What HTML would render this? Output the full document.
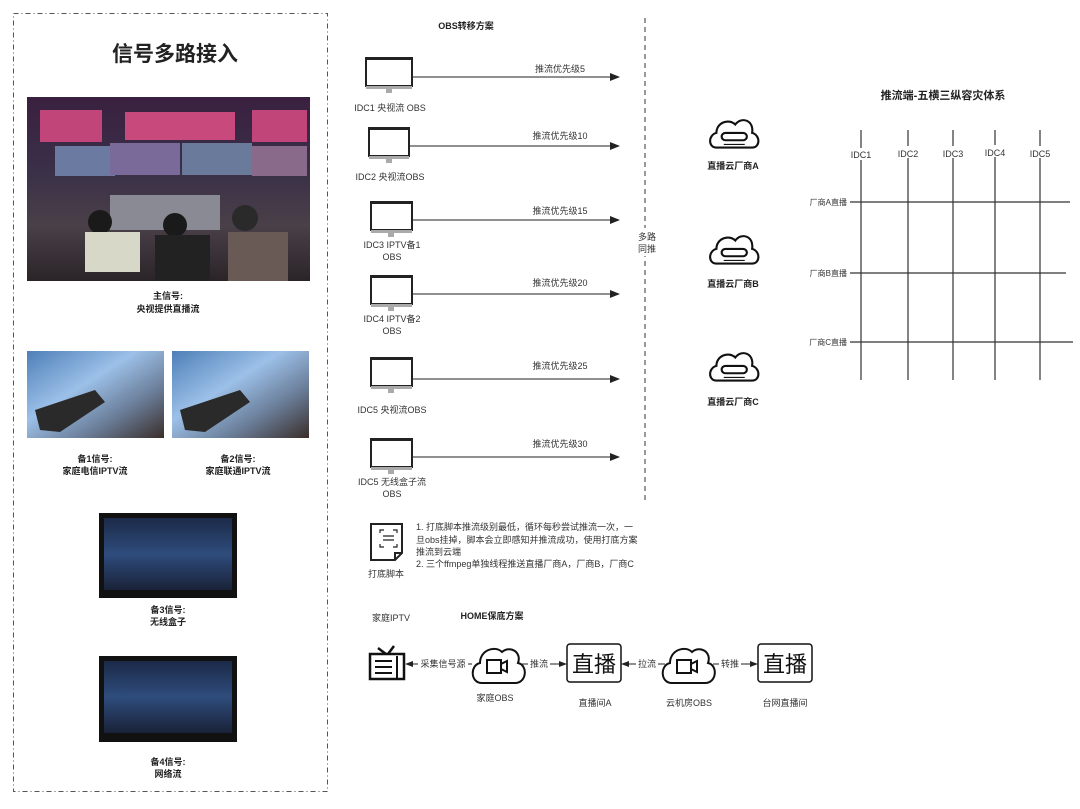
<!DOCTYPE html>
<html><head><meta charset="utf-8"><style>
body{margin:0;background:#fff;}
svg{display:block;font-family:"Liberation Sans","Noto Sans CJK SC",sans-serif;}
</style></head><body>
<svg width="1080" height="809" viewBox="0 0 1080 809" xmlns="http://www.w3.org/2000/svg">
<defs>
<marker id="ar" markerWidth="10" markerHeight="8" refX="9" refY="4" orient="auto" markerUnits="userSpaceOnUse"><path d="M0,0 L10,4 L0,8 Z" fill="#222"/></marker>
<marker id="al" markerWidth="8" markerHeight="6" refX="7" refY="3" orient="auto" markerUnits="userSpaceOnUse"><path d="M0,0 L8,3 L0,6 Z" fill="#222"/></marker>
<linearGradient id="g1" x1="0" y1="0" x2="0" y2="1"><stop offset="0" stop-color="#3a2040"/><stop offset="0.4" stop-color="#3a3048"/><stop offset="0.7" stop-color="#4a4048"/><stop offset="1" stop-color="#2a2428"/></linearGradient>
<linearGradient id="g2" x1="0" y1="0" x2="1" y2="1"><stop offset="0" stop-color="#4e7fb8"/><stop offset="0.4" stop-color="#9cc0e8"/><stop offset="0.7" stop-color="#6a7d98"/><stop offset="1" stop-color="#3a2e2a"/></linearGradient>
<linearGradient id="g3" x1="0" y1="0" x2="0" y2="1"><stop offset="0" stop-color="#1c2a48"/><stop offset="0.5" stop-color="#2e4c7c"/><stop offset="1" stop-color="#1a2238"/></linearGradient>
</defs>

<rect x="13.5" y="13.5" width="314" height="778" fill="none" stroke="#555" stroke-width="1" stroke-dasharray="5,3,1,3"/>
<text x="175" y="61" font-size="21" font-weight="bold" text-anchor="middle" fill="#222">信号多路接入</text>
<rect x="27" y="97" width="283" height="184" fill="url(#g1)"/>
<rect x="40" y="110" width="62" height="32" fill="#c2457a"/><rect x="125" y="112" width="55" height="28" fill="#c84a7c"/><rect x="180" y="112" width="55" height="28" fill="#c84a7c"/><rect x="252" y="110" width="55" height="32" fill="#c2457a"/>
<rect x="55" y="146" width="60" height="30" fill="#6a7aa0"/><rect x="110" y="143" width="70" height="32" fill="#7a6a9a"/><rect x="182" y="143" width="70" height="32" fill="#6a7a9a"/><rect x="252" y="146" width="55" height="30" fill="#8a6a8a"/>
<rect x="110" y="195" width="110" height="35" fill="#8a8a95"/>
<circle cx="100" cy="222" r="12" fill="#1a1a1a"/><rect x="85" y="232" width="55" height="40" fill="#d8d8c8"/>
<circle cx="175" cy="225" r="12" fill="#1a1a1a"/><rect x="155" y="235" width="55" height="46" fill="#222"/>
<circle cx="245" cy="218" r="13" fill="#2a2a2a"/><rect x="228" y="232" width="60" height="49" fill="#6a5a55"/>
<text x="168" y="299" font-size="9" font-weight="bold" text-anchor="middle" fill="#222">主信号:</text>
<text x="168" y="312" font-size="9" font-weight="bold" text-anchor="middle" fill="#222">央视提供直播流</text>

<rect x="27" y="351" width="137" height="87" fill="url(#g2)"/>
<path d="M35,410 L95,390 L105,402 L60,432 L40,430 Z" fill="#2a2a2a"/>
<rect x="172" y="351" width="137" height="87" fill="url(#g2)"/>
<path d="M180,410 L240,390 L250,402 L205,432 L185,430 Z" fill="#2a2a2a"/>
<text x="95" y="462" font-size="9" font-weight="bold" text-anchor="middle" fill="#222">备1信号:</text>
<text x="95" y="474" font-size="9" font-weight="bold" text-anchor="middle" fill="#222">家庭电信IPTV流</text>
<text x="238" y="462" font-size="9" font-weight="bold" text-anchor="middle" fill="#222">备2信号:</text>
<text x="238" y="474" font-size="9" font-weight="bold" text-anchor="middle" fill="#222">家庭联通IPTV流</text>

<rect x="99" y="513" width="138" height="85" fill="#111"/><rect x="104" y="518" width="128" height="72" fill="url(#g3)"/>
<text x="168" y="613" font-size="9" font-weight="bold" text-anchor="middle" fill="#222">备3信号:</text>
<text x="168" y="625" font-size="9" font-weight="bold" text-anchor="middle" fill="#222">无线盒子</text>
<rect x="99" y="656" width="138" height="86" fill="#111"/><rect x="104" y="661" width="128" height="72" fill="url(#g3)"/>
<text x="168" y="765" font-size="9" font-weight="bold" text-anchor="middle" fill="#222">备4信号:</text>
<text x="168" y="777" font-size="9" font-weight="bold" text-anchor="middle" fill="#222">网络流</text>

<text x="466" y="29" font-size="9" font-weight="bold" text-anchor="middle" fill="#222">OBS转移方案</text>
<g fill="none" stroke="#222" stroke-width="2">
<rect x="366" y="58" width="46" height="28"/><rect x="369" y="128" width="40" height="28"/><rect x="371" y="202" width="41" height="28"/><rect x="371" y="276" width="41" height="28"/><rect x="371" y="358" width="41" height="28"/><rect x="371" y="439" width="41" height="28"/>
</g>
<g fill="#222"><rect x="366" y="57" width="46" height="3"/><rect x="369" y="127" width="40" height="3"/><rect x="371" y="201" width="41" height="3"/><rect x="371" y="275" width="41" height="3"/><rect x="371" y="357" width="41" height="3"/><rect x="371" y="438" width="41" height="3"/></g>
<g fill="#aaa">
<rect x="366" y="86" width="46" height="3"/><rect x="386" y="89" width="6" height="4"/>
<rect x="369" y="156" width="40" height="3"/><rect x="386" y="159" width="6" height="4"/>
<rect x="371" y="230" width="41" height="3"/><rect x="388" y="233" width="6" height="4"/>
<rect x="371" y="304" width="41" height="3"/><rect x="388" y="307" width="6" height="4"/>
<rect x="371" y="386" width="41" height="3"/><rect x="388" y="389" width="6" height="4"/>
<rect x="371" y="467" width="41" height="3"/><rect x="388" y="470" width="6" height="4"/>
</g>
<g font-size="9" fill="#333" text-anchor="middle">
<text x="390" y="111">IDC1 央视流 OBS</text>
<text x="390" y="180">IDC2 央视流OBS</text>
<text x="392" y="248">IDC3 IPTV备1</text><text x="392" y="260">OBS</text>
<text x="392" y="322">IDC4 IPTV备2</text><text x="392" y="334">OBS</text>
<text x="392" y="413">IDC5 央视流OBS</text>
<text x="392" y="485">IDC5 无线盒子流</text><text x="392" y="497">OBS</text>
<text x="560" y="72">推流优先级5</text><text x="560" y="139">推流优先级10</text><text x="560" y="214">推流优先级15</text><text x="560" y="286">推流优先级20</text><text x="560" y="369">推流优先级25</text><text x="560" y="447">推流优先级30</text>
</g>
<g stroke="#222" stroke-width="1" marker-end="url(#ar)">
<line x1="412" y1="77" x2="619" y2="77"/><line x1="409" y1="146" x2="619" y2="146"/><line x1="412" y1="220" x2="619" y2="220"/><line x1="412" y1="294" x2="619" y2="294"/><line x1="412" y1="379" x2="619" y2="379"/><line x1="412" y1="457" x2="619" y2="457"/>
</g>
<line x1="645" y1="18" x2="645" y2="500" stroke="#333" stroke-dasharray="5,4"/>
<rect x="636" y="228" width="20" height="28" fill="#fff"/>
<text x="647" y="240" font-size="9" fill="#333" text-anchor="middle">多路</text>
<text x="647" y="252" font-size="9" fill="#333" text-anchor="middle">同推</text>

<g fill="none" stroke="#111" stroke-width="2">
<g transform="translate(708,114) scale(1.05)"><path d="M8,32 C0,32 0,20 8,18 C8,8 20,4 26,10 C32,2 44,6 42,18 C50,20 50,32 42,32 Z"/><rect x="13" y="18" width="24" height="7" rx="3.5"/><line x1="15" y1="29" x2="35" y2="29" stroke-width="1"/></g>
<g transform="translate(708,230) scale(1.05)"><path d="M8,32 C0,32 0,20 8,18 C8,8 20,4 26,10 C32,2 44,6 42,18 C50,20 50,32 42,32 Z"/><rect x="13" y="18" width="24" height="7" rx="3.5"/><line x1="15" y1="29" x2="35" y2="29" stroke-width="1"/></g>
<g transform="translate(708,347) scale(1.05)"><path d="M8,32 C0,32 0,20 8,18 C8,8 20,4 26,10 C32,2 44,6 42,18 C50,20 50,32 42,32 Z"/><rect x="13" y="18" width="24" height="7" rx="3.5"/><line x1="15" y1="29" x2="35" y2="29" stroke-width="1"/></g>
</g>
<g font-size="9" font-weight="bold" fill="#222" text-anchor="middle">
<text x="733" y="169">直播云厂商A</text><text x="733" y="287">直播云厂商B</text><text x="733" y="405">直播云厂商C</text>
</g>

<text x="943" y="99" font-size="11" font-weight="bold" text-anchor="middle" fill="#222">推流端-五横三纵容灾体系</text>
<g stroke="#333" stroke-width="1.2">
<line x1="861" y1="130" x2="861" y2="380"/><line x1="908" y1="130" x2="908" y2="380"/><line x1="953" y1="130" x2="953" y2="380"/><line x1="995" y1="130" x2="995" y2="380"/><line x1="1040" y1="130" x2="1040" y2="380"/>
<line x1="850" y1="202" x2="1070" y2="202"/><line x1="850" y1="273" x2="1066" y2="273"/><line x1="850" y1="342" x2="1073" y2="342"/>
</g>
<g font-size="9" fill="#333" text-anchor="middle">
<rect x="848" y="148" width="26" height="12" fill="#fff"/><text x="861" y="158">IDC1</text>
<rect x="895" y="146" width="26" height="12" fill="#fff"/><text x="908" y="157">IDC2</text>
<rect x="940" y="146" width="26" height="12" fill="#fff"/><text x="953" y="157">IDC3</text>
<rect x="982" y="145" width="26" height="12" fill="#fff"/><text x="995" y="156">IDC4</text>
<rect x="1027" y="146" width="26" height="12" fill="#fff"/><text x="1040" y="157">IDC5</text>
</g>
<g font-size="8" fill="#333" text-anchor="end">
<rect x="800" y="195" width="50" height="12" fill="#fff"/><text x="847" y="205">厂商A直播</text>
<rect x="800" y="266" width="50" height="12" fill="#fff"/><text x="847" y="276">厂商B直播</text>
<rect x="800" y="335" width="50" height="12" fill="#fff"/><text x="847" y="345">厂商C直播</text>
</g>

<path d="M371,524 H402 V553 L395,560 H371 Z M395,560 V553 H402" fill="none" stroke="#222" stroke-width="2"/>
<path d="M380,533 v-3 h4 M393,530 h4 v3 M380,544 v3 h4 M393,547 h4 v-3 M383,536 h11 M383,540 h11" fill="none" stroke="#222" stroke-width="1.2"/>
<text x="386" y="577" font-size="9" fill="#333" text-anchor="middle">打底脚本</text>
<g font-size="9" fill="#333">
<text x="416" y="530">1. 打底脚本推流级别最低，循环每秒尝试推流一次，一</text>
<text x="416" y="543">旦obs挂掉，脚本会立即感知并推流成功，使用打底方案</text>
<text x="416" y="555">推流到云端</text>
<text x="416" y="567">2. 三个ffmpeg单独线程推送直播厂商A，厂商B，厂商C</text>
</g>

<text x="372" y="621" font-size="9" fill="#333">家庭IPTV</text>
<text x="492" y="619" font-size="9" font-weight="bold" text-anchor="middle" fill="#222">HOME保底方案</text>
<g fill="none" stroke="#111" stroke-width="2.5">
<rect x="370" y="654" width="34" height="25"/><line x1="378" y1="648" x2="386" y2="654"/><line x1="394" y1="646" x2="388" y2="654"/>
</g>
<g stroke="#111" stroke-width="2"><line x1="375" y1="661" x2="392" y2="661"/><line x1="375" y1="667" x2="392" y2="667"/><line x1="375" y1="673" x2="392" y2="673"/><line x1="397" y1="656" x2="397" y2="678"/></g>
<g fill="none" stroke="#111" stroke-width="2">
<path d="M482,683 C470,683 470,665 480,663 C480,650 495,645 502,652 C510,645 522,652 518,663 C528,665 527,683 515,683 Z"/>
<rect x="487" y="660" width="14" height="13"/><path d="M501,664 l6,-3 v11 l-6,-3"/>
<path d="M672,683 C660,683 660,665 670,663 C670,650 685,645 692,652 C700,645 712,652 708,663 C718,665 717,683 705,683 Z"/>
<rect x="677" y="660" width="14" height="13"/><path d="M691,664 l6,-3 v11 l-6,-3"/>
<rect x="567" y="644" width="54" height="38" rx="3" stroke-width="1.5"/>
<rect x="758" y="644" width="54" height="38" rx="3" stroke-width="1.5"/>
</g>
<text x="594" y="672" font-size="22" text-anchor="middle" fill="#111">直播</text>
<text x="785" y="672" font-size="22" text-anchor="middle" fill="#111">直播</text>
<g stroke="#222" stroke-width="1">
<line x1="472" y1="664" x2="406" y2="664" marker-end="url(#al)"/>
<line x1="521" y1="664" x2="566" y2="664" marker-end="url(#al)"/>
<line x1="665" y1="664" x2="622" y2="664" marker-end="url(#al)"/>
<line x1="713" y1="664" x2="757" y2="664" marker-end="url(#al)"/>
</g>
<g font-size="9" fill="#333" text-anchor="middle">
<rect x="418" y="658" width="50" height="12" fill="#fff"/><text x="443" y="667">采集信号源</text>
<rect x="528" y="658" width="22" height="12" fill="#fff"/><text x="539" y="667">推流</text>
<rect x="636" y="658" width="22" height="12" fill="#fff"/><text x="647" y="667">拉流</text>
<rect x="719" y="658" width="22" height="12" fill="#fff"/><text x="730" y="667">转推</text>
<text x="495" y="701">家庭OBS</text><text x="595" y="706">直播间A</text><text x="689" y="706">云机房OBS</text><text x="785" y="706">台网直播间</text>
</g>
</svg>
</body></html>
